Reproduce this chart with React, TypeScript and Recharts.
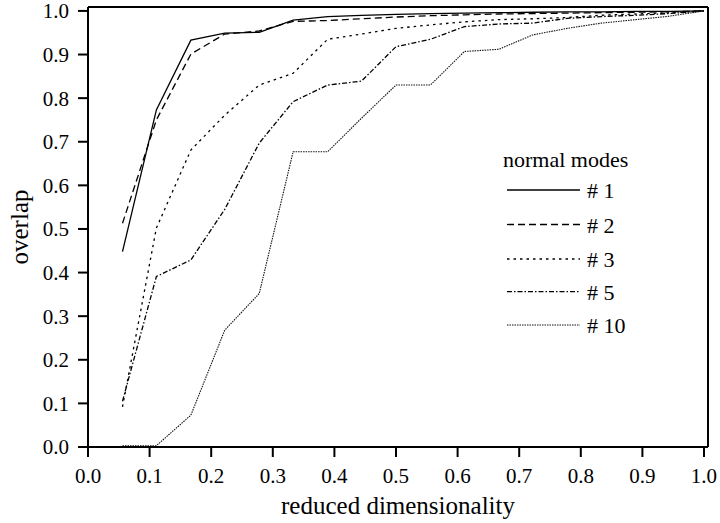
import React from "react";
import { LineChart, Line, XAxis, YAxis, Legend, ReferenceLine } from "recharts";

const dims = [0.056, 0.111, 0.167, 0.222, 0.278, 0.333, 0.389, 0.444, 0.5, 0.556, 0.611, 0.667, 0.722, 0.778, 0.833, 0.889, 0.944, 1.0];
const mode1 = [0.448, 0.773, 0.933, 0.949, 0.951, 0.979, 0.987, 0.99, 0.992, 0.994, 0.995, 0.996, 0.997, 0.998, 0.998, 0.999, 0.999, 1.0];
const mode2 = [0.513, 0.75, 0.901, 0.947, 0.954, 0.976, 0.978, 0.982, 0.986, 0.989, 0.991, 0.993, 0.994, 0.995, 0.996, 0.997, 0.998, 1.0];
const mode3 = [0.092, 0.502, 0.681, 0.761, 0.83, 0.857, 0.935, 0.947, 0.96, 0.968, 0.975, 0.98, 0.982, 0.985, 0.99, 0.993, 0.996, 1.0];
const mode5 = [0.105, 0.391, 0.429, 0.545, 0.697, 0.792, 0.83, 0.839, 0.918, 0.935, 0.964, 0.97, 0.972, 0.983, 0.987, 0.99, 0.994, 1.0];
const mode10 = [0.003, 0.003, 0.073, 0.268, 0.352, 0.677, 0.677, 0.754, 0.83, 0.83, 0.907, 0.912, 0.945, 0.96, 0.972, 0.98, 0.988, 1.0];

const seriesKeys = ["m1", "m2", "m3", "m5", "m10"];
const seriesNames = ["# 1", "# 2", "# 3", "# 5", "# 10"];
const dashes = ["", "7 4", "2.5 4", "5 2 1.5 2", "1.5 1"];
const widths = [1.3, 1.3, 1.3, 1.3, 1.1];
const strokeColors = ["#000", "#000", "#000", "#000", "#111"];

const ticks = [0, 0.1, 0.2, 0.3, 0.4, 0.5, 0.6, 0.7, 0.8, 0.9, 1.0];
const xTitle = "reduced dimensionality";
const yTitle = "overlap";
const legendTitle = "normal modes";

const data = dims.map((d, i) => ({
  x: d,
  m1: mode1[i],
  m2: mode2[i],
  m3: mode3[i],
  m5: mode5[i],
  m10: mode10[i],
}));

const FONT = '"Liberation Serif", "Times New Roman", serif';
const X_MAX = 1.0065;
const Y_MAX = 1.009;

const LegendContent = () => (
  <svg width={220} height={200} style={{ display: "block" }}>
    <text x={3} y={27} fontFamily={FONT} fontSize={22} fill="#000">
      {legendTitle}
    </text>
    {seriesNames.map((n, i) => {
      const ys = [50, 84.5, 119, 151.7, 185];
      const y = ys[i];
      return (
        <g key={n}>
          <line x1={7} x2={80} y1={y} y2={y} stroke={strokeColors[i]} strokeWidth={widths[i]} strokeDasharray={dashes[i] || undefined} />
          <text x={87} y={y + 8} fontFamily={FONT} fontSize={22} fill="#000">
            {n}
          </text>
        </g>
      );
    })}
  </svg>
);

export default function App() {
  return (
    <div style={{ position: "absolute", left: 0, top: 0, width: 720, height: 523, background: "#fff" }}>
      <LineChart width={720} height={523} data={data} margin={{ top: 7, right: 12, left: 0, bottom: 0 }}>
        <XAxis
          dataKey="x"
          type="number"
          domain={[0, X_MAX]}
          ticks={ticks}
          tickFormatter={(v: number) => v.toFixed(1)}
          height={76}
          axisLine={{ stroke: "#000", strokeWidth: 2 }}
          tickLine={{ stroke: "#000", strokeWidth: 2 }}
          tickSize={10}
          tickMargin={11}
          tick={{ fill: "#000", fontSize: 21, fontFamily: FONT }}
          interval={0}
          allowDataOverflow
          label={{ value: xTitle, position: "insideBottom", offset: 9, style: { fill: "#000", fontSize: 25, fontFamily: FONT } }}
        />
        <YAxis
          type="number"
          domain={[0, Y_MAX]}
          ticks={ticks}
          tickFormatter={(v: number) => v.toFixed(1)}
          width={88}
          axisLine={{ stroke: "#000", strokeWidth: 2 }}
          tickLine={{ stroke: "#000", strokeWidth: 2 }}
          tickSize={10}
          tickMargin={9}
          tick={{ fill: "#000", fontSize: 21, fontFamily: FONT }}
          interval={0}
          allowDataOverflow
          label={{ value: yTitle, angle: -90, position: "insideLeft", offset: 19, style: { fill: "#000", fontSize: 25, fontFamily: FONT, textAnchor: "middle" } }}
        />
        <ReferenceLine x={X_MAX} stroke="#000" strokeWidth={2} ifOverflow="extendDomain" />
        <ReferenceLine y={Y_MAX} stroke="#000" strokeWidth={2} ifOverflow="extendDomain" />
        {seriesKeys.map((k, i) => (
          <Line
            key={k}
            dataKey={k}
            name={seriesNames[i]}
            type="linear"
            stroke={strokeColors[i]}
            strokeWidth={widths[i]}
            strokeDasharray={dashes[i] || undefined}
            dot={false}
            activeDot={false}
            isAnimationActive={false}
          />
        ))}
        <Legend
          layout="vertical"
          align="center"
          verticalAlign="middle"
          content={<LegendContent />}
          wrapperStyle={{ position: "absolute", left: 500, top: 140, width: 220, height: 200 }}
        />
      </LineChart>
    </div>
  );
}
